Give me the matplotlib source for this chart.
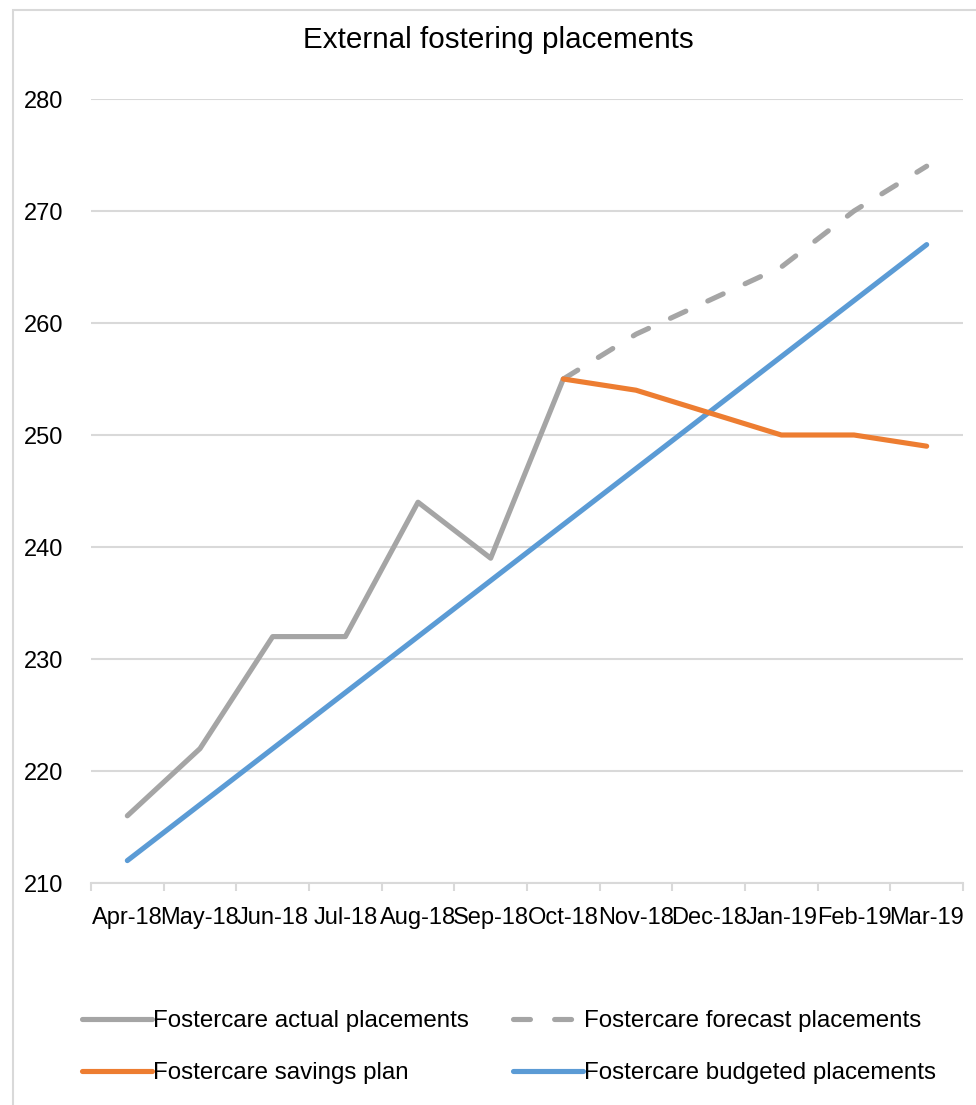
import numpy as np
import matplotlib.pyplot as plt
from matplotlib.patches import Rectangle

plt.rcParams['font.family'] = ['Liberation Sans', 'DejaVu Sans']

months = ['Apr-18', 'May-18', 'Jun-18', 'Jul-18', 'Aug-18', 'Sep-18',
          'Oct-18', 'Nov-18', 'Dec-18', 'Jan-19', 'Feb-19', 'Mar-19']
nan = np.nan
actual = [216, 222, 232, 232, 244, 239, 255, nan, nan, nan, nan, nan]
forecast = [nan, nan, nan, nan, nan, nan, 255, 259, 262, 265, 270, 274]
savings = [nan, nan, nan, nan, nan, nan, 255, 254, 252, 250, 250, 249]
budgeted = [212, 217, 222, 227, 232, 237, 242, 247, 252, 257, 262, 267]

grey = '#A5A5A5'
orange = '#ED7D31'
blue = '#5B9BD5'
grid_col = '#D9D9D9'

W, H = 976, 1105
fig = plt.figure(figsize=(W / 100, H / 100), dpi=100)
ax = fig.add_axes([91 / W, 1 - 883 / H, (963 - 91) / W, (883 - 99) / H])

x = np.arange(len(months))
lw = 3.7
l_act, = ax.plot(x, actual, color=grey, lw=lw, solid_capstyle='round',
                 solid_joinstyle='round', label='Fostercare actual placements')
l_fc, = ax.plot(x, forecast, color=grey, lw=lw, dashes=(3.3, 4.7),
                dash_capstyle='round', label='Fostercare forecast placements')
l_bud, = ax.plot(x, budgeted, color=blue, lw=lw, solid_capstyle='round',
                 solid_joinstyle='round', label='Fostercare budgeted placements')
l_sav, = ax.plot(x, savings, color=orange, lw=lw, solid_capstyle='round',
                 solid_joinstyle='round', label='Fostercare savings plan')

ax.set_xlim(-0.5, len(months) - 0.5)
ax.set_ylim(210, 280)
ax.set_yticks(np.arange(210, 281, 10))
ax.grid(axis='y', color=grid_col, lw=1.5)
ax.set_axisbelow(True)

# category ticks sit between the months, labels centred on each month
ax.set_xticks(np.arange(-0.5, len(months), 1))
ax.set_xticklabels([])
ax.set_xticks(x, minor=True)
ax.set_xticklabels(months, minor=True, fontsize=17)
ax.tick_params(axis='x', which='major', length=6, width=1.5, color=grid_col, direction='out')
ax.tick_params(axis='x', which='minor', length=0, pad=17)
ax.tick_params(axis='y', length=0, pad=20, labelsize=17)

for s in ['top', 'right', 'left']:
    ax.spines[s].set_visible(False)
ax.spines['bottom'].set_color(grid_col)
ax.spines['bottom'].set_linewidth(1.5)

fig.text(498 / W, 1 - 40 / H, 'External fostering placements',
         ha='center', va='center', fontsize=21.3)

leg = fig.legend([l_act, l_sav, l_fc, l_bud],
                 [l.get_label() for l in [l_act, l_sav, l_fc, l_bud]],
                 ncol=2, loc='upper left', bbox_to_anchor=(70 / W, 1 - 998 / H),
                 frameon=False, fontsize=17.4, handlelength=2.9,
                 handletextpad=0.05, columnspacing=1.8, labelspacing=1.25,
                 borderpad=0)

# light frame round the whole chart area
fig.add_artist(Rectangle((13 / W, -0.1), 1.2, 1 - 10 / H + 0.1,
                         transform=fig.transFigure, fill=False,
                         edgecolor=grid_col, lw=1.5))

fig.savefig('out.png', dpi=100)
